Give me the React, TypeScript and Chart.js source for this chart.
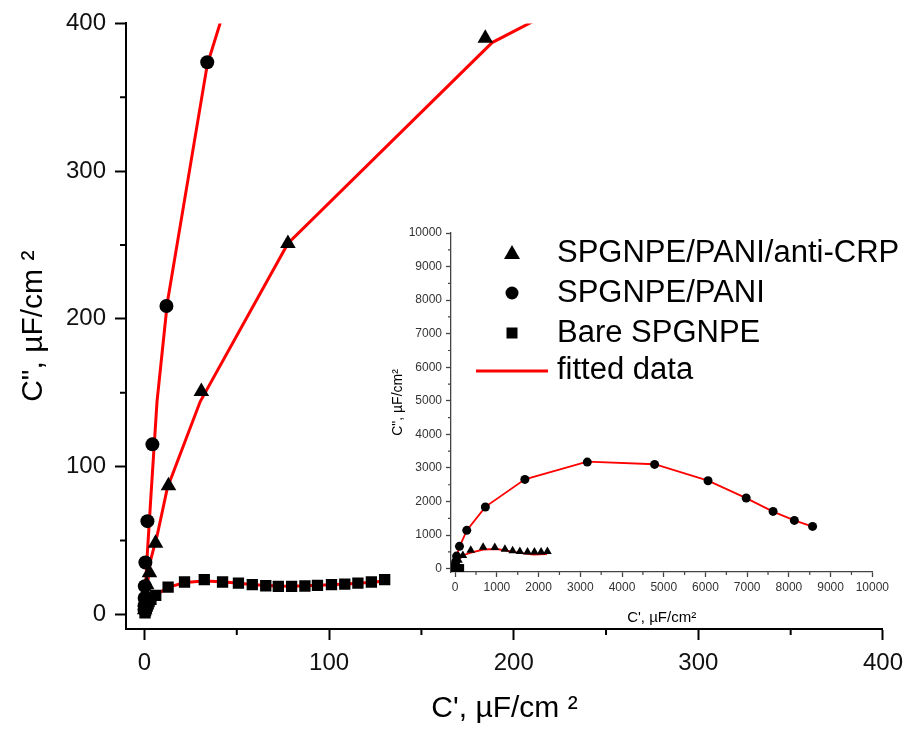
import React, { useEffect, useRef } from 'react';
import { Chart, registerables } from 'chart.js';
Chart.register(...registerables);

const FONT = "'Liberation Sans', Arial, sans-serif";

// SPGNPE/PANI/anti-CRP (triangles)
const triX = [0.1, 0.3, 0.6, 1.2, 2.7, 6.0, 13.0, 30.8, 77.7, 184.6, 374, 670, 950, 1193, 1377, 1551, 1734, 1900, 2060, 2211];
const triY = [3, 8, 14, 20, 28, 48, 86.9, 150.8, 251, 390, 550, 640, 630, 575, 535, 510, 493, 493, 497, 510];
const triFitX = [0.2, 1.0, 3.2, 7.0, 12.4, 30.2, 77.7, 188.3, 230, 358, 676, 995, 1234, 1551, 1870, 2200];
const triFitY = [5, 14, 36, 54, 85.5, 144, 251, 387, 414, 470, 570, 585, 540, 470, 420, 430];

// SPGNPE/PANI (circles)
const circX = [0.0, 0.1, 0.1, 0.2, 0.5, 1.6, 4.3, 11.9, 34.0, 103, 278, 724, 1671, 3167, 4781, 6062, 6977, 7621, 8131, 8568];
const circY = [3, 6, 11, 19, 35, 63, 115, 208.7, 373.7, 664, 1141, 1835, 2658, 3175, 3105, 2619, 2104, 1706, 1438, 1259];
const circFitX = [0, 1.5, 3.5, 6.8, 12.4, 34, 103, 278, 724, 1671, 3167, 4781, 6062, 6977, 7621, 8131, 8568];
const circFitY = [5, 40, 80, 144, 211, 372, 650, 1140, 1840, 2660, 3190, 3110, 2620, 2100, 1700, 1440, 1250];

// Bare SPGNPE (squares)
const sqX = [0.3, 0.6, 1.0, 1.5, 2.0, 2.5, 3.5, 6.1, 12.8, 21.7, 32.4, 42.3, 50.9, 58.4, 65.7, 72.5, 79.7, 86.9, 93.7, 101.3, 108.5, 115.6, 122.9, 130.1];
const sqY = [1.0, 2.5, 4.0, 5.5, 7.0, 8.5, 10.0, 12.8, 18.4, 21.8, 23.4, 21.8, 21.1, 20.0, 19.3, 18.9, 18.9, 19.1, 19.5, 20.0, 20.4, 21.1, 21.8, 23.4];
const sqFitX = [0, 1, 3, 6, 10, 15, 22, 32, 42, 51, 58, 66, 73, 80, 87, 94, 101, 109, 116, 123, 131];
const sqFitY = [1, 6, 10, 13, 16, 19, 21.5, 22.5, 22, 21, 20.2, 19.5, 19.1, 19, 19.2, 19.6, 20, 20.5, 21, 21.7, 22.5];

const legendLabels = ['SPGNPE/PANI/anti-CRP', 'SPGNPE/PANI', 'Bare SPGNPE', 'fitted data'];

const mainMajor = [0, 100, 200, 300, 400];
const mainMinor = [50, 150, 250, 350];
const insetMajor = [0, 1000, 2000, 3000, 4000, 5000, 6000, 7000, 8000, 9000, 10000];
const insetMinor = [500, 1500, 2500, 3500, 4500, 5500, 6500, 7500, 8500, 9500];

const zip = (xs: number[], ys: number[]) => xs.map((x, i) => ({ x, y: ys[i] }));

const minorTickPlugin = {
  id: 'minorTicks',
  afterDraw(chart: any, _args: any, opts: any) {
    const ctx = chart.ctx;
    const ca = chart.chartArea;
    ctx.save();
    ctx.strokeStyle = opts.color;
    ctx.lineWidth = opts.width;
    ctx.beginPath();
    for (const v of opts.values) {
      const px = chart.scales.x.getPixelForValue(v);
      ctx.moveTo(px, ca.bottom);
      ctx.lineTo(px, ca.bottom + opts.len);
      const py = chart.scales.y.getPixelForValue(v);
      ctx.moveTo(ca.left, py);
      ctx.lineTo(ca.left - opts.len, py);
    }
    ctx.stroke();
    ctx.restore();
  },
};

const legendPlugin = {
  id: 'customLegend',
  afterDraw(chart: any) {
    const ctx = chart.ctx;
    ctx.save();
    const mx = 512;
    const rows = [253, 293, 333, 371];
    ctx.fillStyle = '#000';
    ctx.beginPath();
    ctx.moveTo(mx, rows[0] - 8);
    ctx.lineTo(mx + 8, rows[0] + 6);
    ctx.lineTo(mx - 8, rows[0] + 6);
    ctx.closePath();
    ctx.fill();
    ctx.beginPath();
    ctx.arc(mx, rows[1], 6.5, 0, Math.PI * 2);
    ctx.fill();
    ctx.fillRect(mx - 5.5, rows[2] - 5.5, 11, 11);
    ctx.strokeStyle = '#ff0000';
    ctx.lineWidth = 3;
    ctx.beginPath();
    ctx.moveTo(476, rows[3]);
    ctx.lineTo(548, rows[3]);
    ctx.stroke();
    ctx.font = `31px ${FONT}`;
    ctx.textBaseline = 'middle';
    ctx.textAlign = 'left';
    legendLabels.forEach((t, i) => ctx.fillText(t, 557, rows[i] - (i === 3 ? 1 : 0)));
    ctx.restore();
  },
};

function axis(opts: any) {
  const { min, max, major, size, fontSize, tickLen, color, lineW, title, titleSize, titlePad, labelPad, isX, labelColor } = opts;
  return {
    type: 'linear',
    min,
    max,
    afterBuildTicks: (s: any) => {
      s.ticks = major.map((v: number) => ({ value: v }));
    },
    afterFit: (s: any) => {
      if (isX) s.height = size;
      else s.width = size;
    },
    grid: {
      display: true,
      drawOnChartArea: false,
      drawTicks: true,
      tickLength: tickLen,
      tickWidth: lineW,
      tickColor: color,
    },
    border: { display: true, color, width: lineW },
    ticks: {
      color: labelColor,
      font: { family: FONT, size: fontSize },
      padding: labelPad,
      maxRotation: 0,
      autoSkip: false,
      callback: (v: any) => String(v),
    },
    title: {
      display: true,
      text: title,
      color: '#000',
      font: { family: FONT, size: titleSize },
      padding: titlePad,
    },
  };
}

export default function App() {
  const mainRef = useRef<HTMLCanvasElement>(null);
  const insetRef = useRef<HTMLCanvasElement>(null);

  useEffect(() => {
    const main = new Chart(mainRef.current as HTMLCanvasElement, {
      type: 'scatter',
      data: {
        datasets: [
          { label: 'tri', data: zip(triX, triY), pointStyle: 'triangle', pointRadius: 9, backgroundColor: '#000', borderColor: '#000', borderWidth: 0, order: 0 },
          { label: 'circ', data: zip(circX, circY), pointStyle: 'circle', pointRadius: 7, backgroundColor: '#000', borderColor: '#000', borderWidth: 0, order: 0 },
          { label: 'sq', data: zip(sqX, sqY), pointStyle: 'rect', pointRadius: 8, backgroundColor: '#000', borderColor: '#000', borderWidth: 0, order: 0 },
          { label: 'triFit', data: zip(triFitX, triFitY), showLine: true, pointRadius: 0, borderColor: '#ff0000', borderWidth: 3, order: 1 },
          { label: 'circFit', data: zip(circFitX, circFitY), showLine: true, pointRadius: 0, borderColor: '#ff0000', borderWidth: 3, order: 1 },
          { label: 'sqFit', data: zip(sqFitX, sqFitY), showLine: true, pointRadius: 0, borderColor: '#ff0000', borderWidth: 3, order: 1 },
        ],
      } as any,
      options: {
        animation: false,
        responsive: false,
        devicePixelRatio: 1,
        layout: { padding: { top: 20, right: 27, left: 0, bottom: 0 } },
        plugins: {
          legend: { display: false },
          tooltip: { enabled: false },
          minorTicks: { values: mainMinor, len: 6, width: 2, color: '#000' },
        } as any,
        scales: {
          x: axis({ min: -10, max: 400, major: mainMajor, size: 102, fontSize: 24, tickLen: 11, color: '#000', lineW: 2, title: "C', µF/cm ²", titleSize: 30, titlePad: { top: 0, bottom: 4 }, labelPad: 9, isX: true, labelColor: '#111' }),
          y: axis({ min: -10, max: 400, major: mainMajor, size: 126, fontSize: 24, tickLen: 11, color: '#000', lineW: 2, title: 'C", µF/cm ²', titleSize: 30, titlePad: { top: 16, bottom: 0 }, labelPad: 9, isX: false, labelColor: '#111' }),
        } as any,
      },
      plugins: [minorTickPlugin, legendPlugin],
    });

    const inset = new Chart(insetRef.current as HTMLCanvasElement, {
      type: 'scatter',
      data: {
        datasets: [
          { label: 'tri', data: zip(triX, triY), pointStyle: 'triangle', pointRadius: 5, backgroundColor: '#000', borderColor: '#000', borderWidth: 0, order: 0 },
          { label: 'circ', data: zip(circX, circY), pointStyle: 'circle', pointRadius: 4.5, backgroundColor: '#000', borderColor: '#000', borderWidth: 0, order: 0 },
          { label: 'sq', data: zip(sqX, sqY), pointStyle: 'rect', pointRadius: 5, backgroundColor: '#000', borderColor: '#000', borderWidth: 0, order: 0 },
          { label: 'triFit', data: zip(triFitX, triFitY), showLine: true, pointRadius: 0, borderColor: '#ff0000', borderWidth: 1.8, order: 1 },
          { label: 'circFit', data: zip(circFitX, circFitY), showLine: true, pointRadius: 0, borderColor: '#ff0000', borderWidth: 1.8, order: 1 },
          { label: 'sqFit', data: zip(sqFitX, sqFitY), showLine: true, pointRadius: 0, borderColor: '#ff0000', borderWidth: 1.8, order: 1 },
        ],
      } as any,
      options: {
        animation: false,
        responsive: false,
        devicePixelRatio: 1,
        layout: { padding: { top: 13, right: 18, left: 0, bottom: 0 } },
        plugins: {
          legend: { display: false },
          tooltip: { enabled: false },
          minorTicks: { values: insetMinor, len: 3, width: 1.2, color: '#444' },
        } as any,
        scales: {
          x: axis({ min: -100, max: 10000, major: insetMajor, size: 68, fontSize: 12, tickLen: 5, color: '#444', lineW: 1.3, title: "C', µF/cm²", titleSize: 15, titlePad: { top: 0, bottom: 13 }, labelPad: 3, isX: true, labelColor: '#333' }),
          y: axis({ min: -100, max: 10000, major: insetMajor, size: 71, fontSize: 12, tickLen: 5, color: '#444', lineW: 1.3, title: 'C", µF/cm²', titleSize: 14, titlePad: { top: 10, bottom: 0 }, labelPad: 4, isX: false, labelColor: '#333' }),
        } as any,
      },
      plugins: [minorTickPlugin],
    });

    return () => {
      main.destroy();
      inset.destroy();
    };
  }, []);

  return (
    <div style={{ position: 'absolute', left: 0, top: 0, width: 912, height: 731, background: '#fff' }}>
      <canvas ref={mainRef} width={912} height={731} style={{ position: 'absolute', left: 0, top: 0, display: 'block' }} />
      <canvas ref={insetRef} width={512} height={420} style={{ position: 'absolute', left: 380, top: 220, display: 'block' }} />
    </div>
  );
}
